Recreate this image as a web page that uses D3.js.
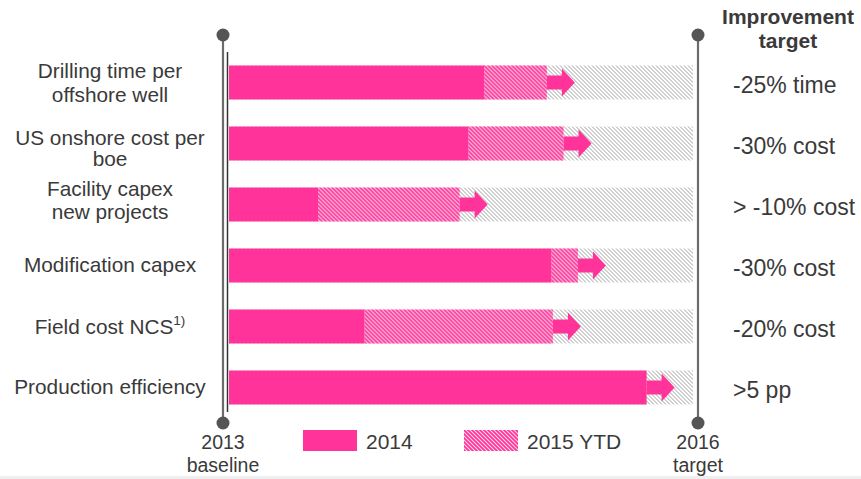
<!DOCTYPE html>
<html lang="en">
<head>
  <meta charset="UTF-8">
  <title>Improvement targets</title>
  <script src="https://d3js.org/d3.v7.min.js"></script>
  <style>
    body {
      margin: 0;
      padding: 0;
      background: #fff;
      font-family: 'Liberation Sans', Arial, sans-serif;
    }
    svg text { fill: #3a3a3a; }
  </style>
</head>
<body>
  <div id="chart"></div>

  <script>
    // values are % of the way from 2013 baseline (0) to 2016 target (100)
    const categories = [
      "Drilling time per|offshore well",
      "US onshore cost per|boe",
      "Facility capex|new projects",
      "Modification capex",
      "Field cost NCS",
      "Production efficiency"
    ];
    const values2014 = [55, 51.6, 19.2, 69.5, 29.2, 90];
    const values2015 = [68.5, 72.1, 49.7, 75.2, 69.8, 90];
    const targets = ["-25% time", "-30% cost", "> -10% cost", "-30% cost", "-20% cost", ">5 pp"];
    const legendLabels = ["2014", "2015 YTD"];

    const pink = "#ff3399";
    const W = 861, H = 479;

    const svg = d3.select("#chart").append("svg")
      .attr("width", W)
      .attr("height", H);

    const defs = svg.append("defs");
    // grey hatch (remaining to target)
    const pg = defs.append("pattern")
      .attr("id", "hatchGrey")
      .attr("patternUnits", "userSpaceOnUse")
      .attr("width", 4).attr("height", 4);
    pg.append("rect").attr("width", 4).attr("height", 4).attr("fill", "#fff");
    pg.append("path")
      .attr("d", "M-1,-1 L5,5 M-1,3 L1,5 M3,-1 L5,1")
      .attr("stroke", "#a0a0a0").attr("stroke-width", 1);
    // pink hatch (2015 YTD)
    const pp = defs.append("pattern")
      .attr("id", "hatchPink")
      .attr("patternUnits", "userSpaceOnUse")
      .attr("width", 4).attr("height", 4);
    pp.append("rect").attr("width", 4).attr("height", 4).attr("fill", "#fbd3e7");
    pp.append("path")
      .attr("d", "M-1,-1 L5,5 M-1,3 L1,5 M3,-1 L5,1")
      .attr("stroke", pink).attr("stroke-width", 1.7);

    const x = d3.scaleLinear().domain([0, 100]).range([229, 693]);
    const y = d3.scaleBand()
      .domain(d3.range(categories.length))
      .range([52, 418])
      .paddingInner(0.443)
      .paddingOuter(0.2215);
    const bh = y.bandwidth();

    // baseline / target posts
    [223, 698].forEach(px => {
      svg.append("line")
        .attr("x1", px).attr("x2", px).attr("y1", 35).attr("y2", 423)
        .attr("stroke", "#6b6b6b").attr("stroke-width", 2.2);
      svg.append("circle").attr("cx", px).attr("cy", 35).attr("r", 6.5).attr("fill", "#555");
      svg.append("circle").attr("cx", px).attr("cy", 423).attr("r", 6.5).attr("fill", "#555");
    });
    svg.append("line")
      .attr("x1", 227.5).attr("x2", 227.5).attr("y1", 52).attr("y2", 412)
      .attr("stroke", "#333").attr("stroke-width", 1.5);

    const rows = svg.append("g").selectAll("g")
      .data(categories)
      .join("g")
      .attr("transform", (d, i) => `translate(0,${y(i)})`);

    rows.append("rect")
      .attr("x", x(0)).attr("width", x(100) - x(0))
      .attr("height", bh).attr("fill", "url(#hatchGrey)");
    rows.append("rect")
      .attr("x", (d, i) => x(values2014[i]))
      .attr("width", (d, i) => x(values2015[i]) - x(values2014[i]))
      .attr("height", bh).attr("fill", "url(#hatchPink)");
    rows.append("rect")
      .attr("x", x(0))
      .attr("width", (d, i) => x(values2014[i]) - x(0))
      .attr("height", bh).attr("fill", pink);

    // arrows starting at the 2015 value
    const shaftL = 15, headL = 13, shaftH = 14, headH = 28;
    rows.append("path")
      .attr("fill", pink)
      .attr("d", (d, i) => {
        const x0 = x(values2015[i]), c = bh / 2;
        return `M${x0},${c - shaftH / 2} L${x0 + shaftL},${c - shaftH / 2} L${x0 + shaftL},${c - headH / 2}` +
          ` L${x0 + shaftL + headL},${c} L${x0 + shaftL},${c + headH / 2} L${x0 + shaftL},${c + shaftH / 2}` +
          ` L${x0},${c + shaftH / 2} Z`;
      });

    // left labels
    const lineOffsets = [[-4.5, 19.5], [1, 23], [-8.5, 15], [7], [7.5], [7]];
    rows.each(function(d, i) {
      const t = d3.select(this).append("text")
        .attr("text-anchor", "middle")
        .style("font-size", "20.8px");
      d.split("|").forEach((line, j) => {
        t.append("tspan").attr("x", 110).attr("y", bh / 2 + lineOffsets[i][j]).text(line);
      });
      if (i === 4) {
        t.append("tspan")
          .attr("dy", -9).style("font-size", "13.5px").text("1)");
      }
    });

    // right target labels
    rows.append("text")
      .attr("x", 733)
      .attr("y", bh / 2 + 11)
      .style("font-size", "23px")
      .text((d, i) => targets[i]);

    // header
    svg.append("text")
      .attr("text-anchor", "middle")
      .style("font-size", "21px").style("font-weight", "bold")
      .call(t => {
        t.append("tspan").attr("x", 788).attr("y", 24).text("Improvement");
        t.append("tspan").attr("x", 788).attr("y", 48).text("target");
      });

    // bottom post labels
    [[223, "2013", "baseline"], [698, "2016", "target"]].forEach(([px, a, b]) => {
      svg.append("text")
        .attr("text-anchor", "middle").style("font-size", "19.5px")
        .call(t => {
          t.append("tspan").attr("x", px).attr("y", 449).text(a);
          t.append("tspan").attr("x", px).attr("y", 472).text(b);
        });
    });

    // legend
    const legend = svg.append("g").selectAll("g")
      .data(legendLabels)
      .join("g")
      .attr("transform", (d, i) => `translate(${i === 0 ? 303 : 464},430)`);
    legend.append("rect")
      .attr("width", 54).attr("height", 21)
      .attr("fill", (d, i) => i === 0 ? pink : "url(#hatchPink)");
    legend.append("text")
      .attr("x", 63).attr("y", 19)
      .style("font-size", "21px")
      .text(d => d);

    // slide footer strip
    svg.append("rect")
      .attr("x", 0).attr("y", 476).attr("width", W).attr("height", 3)
      .attr("fill", "#efefef");
  </script>
</body>
</html>
